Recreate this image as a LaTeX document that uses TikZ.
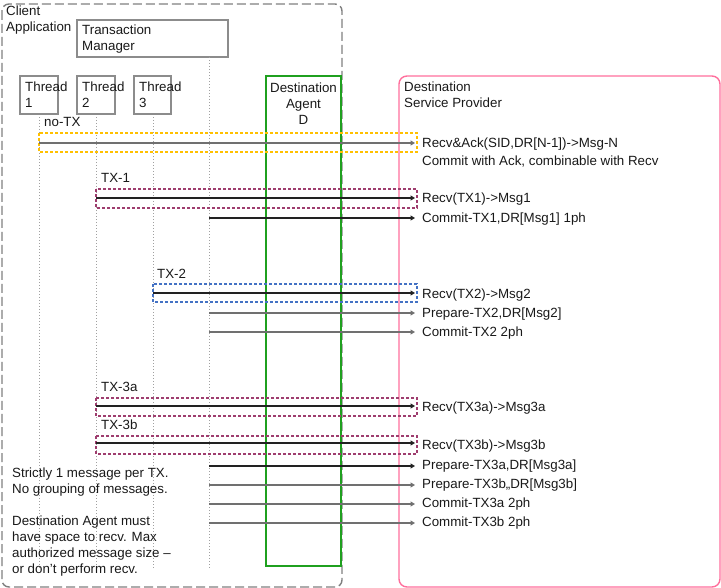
\documentclass[tikz,border=0pt]{standalone}
\usepackage{fontspec}
\setmainfont{Liberation Sans}
\usetikzlibrary{arrows.meta}
\definecolor{boxgray}{HTML}{8C8C8C}
\definecolor{lifegray}{HTML}{A0A0A0}
\definecolor{outergray}{HTML}{7F7F7F}
\definecolor{txyellow}{HTML}{FFC000}
\definecolor{txpurple}{HTML}{9E3D6E}
\definecolor{txblue}{HTML}{4472C4}
\definecolor{agentgreen}{HTML}{1FA01F}
\definecolor{dsppink}{HTML}{FF6F9C}
\definecolor{arrblack}{HTML}{222222}
\definecolor{arrgray}{HTML}{707070}
\begin{document}
\begin{tikzpicture}[x=1pt,y=-1pt,
  every node/.style={font=\fontsize{13.33}{16}\selectfont, inner sep=0pt, text=black!90},
  lbl/.style={anchor=base west, align=left},
  clbl/.style={anchor=base, align=center},
  actorbox/.style={draw=boxgray, line width=1.2pt},
  lifeline/.style={draw=lifegray, line width=1pt, dash pattern=on 1pt off 2pt},
  txbox/.style={line width=1.2pt, dash pattern=on 3pt off 2pt},
  msg/.style={line width=1.3pt, -{Triangle[length=4.5pt,width=5pt]}},
]
\useasboundingbox (0,0) rectangle (721,588);
% outer client application box
\draw[outergray, line width=1.4pt, dash pattern=on 9pt off 4pt, rounded corners=7pt] (2,4) rectangle (342,587);
\node[lbl] (client) at (6,31.8) {Client\\Application};
% destination service provider
\draw[dsppink, line width=1.4pt, rounded corners=8pt] (399,76) rectangle (720,587);
\node[lbl] (dsp) at (404,107.8) {Destination\\Service Provider};
% transaction manager
\draw[actorbox, fill=white] (77,20) rectangle (228,57);
\node[lbl] (tm) at (82,50.8) {Transaction\\Manager};
% threads
\coordinate (t1top) at (39,114);
\coordinate (t2top) at (96,114);
\coordinate (t3top) at (153,114);
\coordinate (tmtop) at (209,57);
\coordinate (t1bot) at (39,568);
\coordinate (t2bot) at (96,568);
\coordinate (t3bot) at (153,568);
\coordinate (tmbot) at (209,568);
\draw[lifeline] (t1top) -- (t1bot);
\draw[lifeline] (t2top) -- (t2bot);
\draw[lifeline] (t3top) -- (t3bot);
\draw[lifeline] (tmtop) -- (tmbot);
\draw[actorbox] (20,76) rectangle (58,114);
\draw[actorbox] (77,76) rectangle (115,114);
\draw[actorbox] (134,76) rectangle (171,114);
\node[lbl] (th1) at (25,107.8) {Thread\\1};
\node[lbl] (th2) at (82,107.8) {Thread\\2};
\node[lbl] (th3) at (139,107.8) {Thread\\3};
% destination agent
\draw[agentgreen, line width=1.4pt] (266,76) rectangle (341,566);
\node[clbl] (da) at (303.5,124.8) {Destination\\Agent\\D};

% no-TX
\node[lbl] (notx) at (44,126.8) {no-TX};
\draw[txbox, txyellow] (39,133) rectangle (417,152);
\coordinate (s0) at (39,143);
\coordinate (e0) at (415,143);
\draw[msg, arrgray] (s0) -- (e0);
\node[lbl] (r0t) at (422,147.8) {Recv\&Ack(SID,DR[N-1])->Msg-N};
\node[lbl] (r0c) at (422,165.8) {Commit with Ack, combinable with Recv};

% TX-1
\node[lbl] (tx1) at (101,182.8) {TX-1};
\draw[txbox, txpurple] (96,189) rectangle (417,208);
\coordinate (s1) at (96,198);
\coordinate (e1) at (415,198);
\draw[msg, arrblack] (s1) -- (e1);
\node[lbl] (r1) at (422,202.8) {Recv(TX1)->Msg1};
\coordinate (s2) at (209,218);
\coordinate (e2) at (415,218);
\draw[msg, arrblack] (s2) -- (e2);
\node[lbl] (r2) at (422,222.8) {Commit-TX1,DR[Msg1] 1ph};

% TX-2
\node[lbl] (tx2) at (157,278.8) {TX-2};
\draw[txbox, txblue] (153,284) rectangle (417,302);
\coordinate (s3) at (153,293);
\coordinate (e3) at (415,293);
\draw[msg, arrblack] (s3) -- (e3);
\node[lbl] (r3) at (422,298.8) {Recv(TX2)->Msg2};
\coordinate (s4) at (209,313);
\coordinate (e4) at (415,313);
\draw[msg, arrgray] (s4) -- (e4);
\node[lbl] (r4) at (422,317.8) {Prepare-TX2,DR[Msg2]};
\coordinate (s5) at (209,332);
\coordinate (e5) at (415,332);
\draw[msg, arrgray] (s5) -- (e5);
\node[lbl] (r5) at (422,336.8) {Commit-TX2 2ph};

% TX-3a
\node[lbl] (tx3a) at (101,391.8) {TX-3a};
\draw[txbox, txpurple] (96,398) rectangle (417,416);
\coordinate (s6) at (96,406);
\coordinate (e6) at (415,406);
\draw[msg, arrblack] (s6) -- (e6);
\node[lbl] (r6) at (422,411.8) {Recv(TX3a)->Msg3a};
% TX-3b
\node[lbl] (tx3b) at (101,429.8) {TX-3b};
\draw[txbox, txpurple] (96,436) rectangle (417,454);
\coordinate (s7) at (96,443);
\coordinate (e7) at (415,443);
\draw[msg, arrblack] (s7) -- (e7);
\node[lbl] (r7) at (422,449.8) {Recv(TX3b)->Msg3b};
\coordinate (s8) at (209,466);
\coordinate (e8) at (415,466);
\draw[msg, arrblack] (s8) -- (e8);
\node[lbl] (r8) at (422,469.8) {Prepare-TX3a,DR[Msg3a]};
\coordinate (s9) at (209,485);
\coordinate (e9) at (415,485);
\draw[msg, arrgray] (s9) -- (e9);
\node[lbl] (r9) at (422,488.8) {Prepare-TX3b,,DR[Msg3b]};
\coordinate (s10) at (209,504);
\coordinate (e10) at (415,504);
\draw[msg, arrgray] (s10) -- (e10);
\node[lbl] (r10) at (422,507.8) {Commit-TX3a 2ph};
\coordinate (s11) at (209,523);
\coordinate (e11) at (415,523);
\draw[msg, arrgray] (s11) -- (e11);
\node[lbl] (r11) at (422,526.8) {Commit-TX3b 2ph};

% notes
\node[lbl] (note1) at (12,493.3) {Strictly 1 message per TX.\\No grouping of messages.};
\node[lbl] (note2) at (12,573.8) {Destination Agent must\\have space to recv. Max\\authorized message size –\\or don’t perform recv.};
\end{tikzpicture}
\end{document}
